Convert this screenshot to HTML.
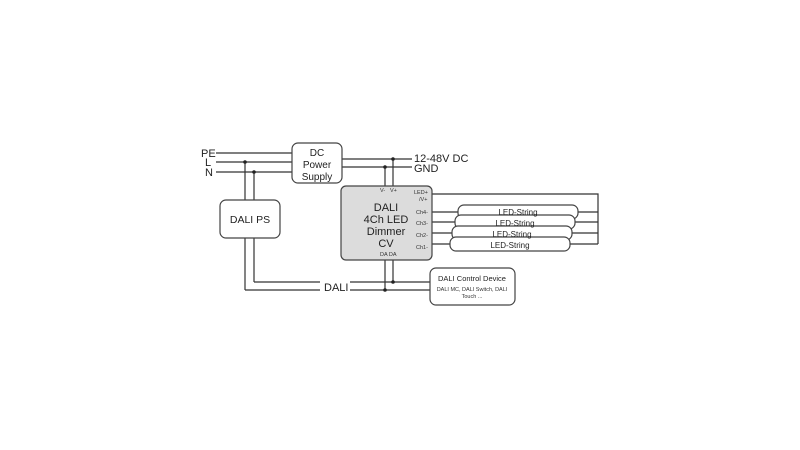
<!DOCTYPE html>
<html><head><style>
body{margin:0;background:#fff;}
svg{display:block;font-family:"Liberation Sans",sans-serif;}
</style></head><body>
<svg width="800" height="450" viewBox="0 0 800 450">
<g stroke="#333" stroke-width="1.2" fill="none">
<!-- mains -->
<line x1="216" y1="153" x2="292" y2="153"/>
<line x1="216" y1="162" x2="292" y2="162"/>
<line x1="216" y1="172" x2="292" y2="172"/>
<line x1="245" y1="162" x2="245" y2="200"/>
<line x1="254" y1="172" x2="254" y2="200"/>
<!-- DC out -->
<line x1="342" y1="159" x2="412" y2="159"/>
<line x1="342" y1="167" x2="412" y2="167"/>
<line x1="385" y1="167" x2="385" y2="186"/>
<line x1="393" y1="159" x2="393" y2="186"/>
<!-- DALI bus -->
<line x1="245" y1="238" x2="245" y2="290"/>
<line x1="254" y1="238" x2="254" y2="282"/>
<line x1="245" y1="290" x2="320" y2="290"/>
<line x1="254" y1="282" x2="320" y2="282"/>
<line x1="350" y1="290" x2="430" y2="290"/>
<line x1="350" y1="282" x2="430" y2="282"/>
<line x1="385" y1="260" x2="385" y2="290"/>
<line x1="393" y1="260" x2="393" y2="282"/>
<!-- LED -->
<polyline points="432,194 598,194 598,244"/>
<line x1="432" y1="212" x2="458" y2="212"/>
<line x1="432" y1="222" x2="455" y2="222"/>
<line x1="432" y1="233" x2="452" y2="233"/>
<line x1="432" y1="244" x2="450" y2="244"/>
<line x1="578" y1="212" x2="598" y2="212"/>
<line x1="575" y1="222" x2="598" y2="222"/>
<line x1="572" y1="233" x2="598" y2="233"/>
<line x1="570" y1="244" x2="598" y2="244"/>
</g>
<g stroke="#444" stroke-width="1.2">
<rect x="292" y="143" width="50" height="40" rx="6" fill="#fff"/>
<rect x="220" y="200" width="60" height="38" rx="6" fill="#fff"/>
<rect x="341" y="186" width="91" height="74" rx="5" fill="#dcdcdc"/>
<rect x="430" y="268" width="85" height="37" rx="6" fill="#fff"/>
<rect x="458" y="205" width="120" height="14" rx="6" fill="#fff"/>
<rect x="455" y="215" width="120" height="14" rx="6" fill="#fff"/>
<rect x="452" y="226" width="120" height="14" rx="6" fill="#fff"/>
<rect x="450" y="237" width="120" height="14" rx="6" fill="#fff"/>
</g>
<g fill="#222">
<circle cx="245" cy="162" r="1.8"/><circle cx="254" cy="172" r="1.8"/>
<circle cx="385" cy="167" r="1.8"/><circle cx="393" cy="159" r="1.8"/>
<circle cx="385" cy="290" r="1.8"/><circle cx="393" cy="282" r="1.8"/>
</g>
<g fill="#222" font-size="11">
<text x="201" y="157">PE</text><text x="205" y="166">L</text><text x="205" y="176">N</text>
<text x="317" y="156" text-anchor="middle" font-size="10">DC</text>
<text x="317" y="168" text-anchor="middle" font-size="10">Power</text>
<text x="317" y="180" text-anchor="middle" font-size="10">Supply</text>
<text x="414" y="162">12-48V DC</text><text x="414" y="172">GND</text>
<text x="250" y="223" text-anchor="middle" font-size="10.5">DALI PS</text>
<text x="324" y="291">DALI</text>
<text x="386" y="211" text-anchor="middle">DALI</text>
<text x="386" y="223" text-anchor="middle">4Ch LED</text>
<text x="386" y="235" text-anchor="middle">Dimmer</text>
<text x="386" y="247" text-anchor="middle">CV</text>
</g>
<g fill="#333" font-size="5.5">
<text x="380" y="192">V-</text><text x="390" y="192">V+</text>
<text x="380" y="256">DA DA</text>
<text x="414" y="194">LED+</text><text x="419" y="201">/V+</text>
<text x="416" y="214">Ch4-</text><text x="416" y="225">Ch3-</text>
<text x="416" y="237">Ch2-</text><text x="416" y="249">Ch1-</text>
<text x="472" y="281" font-size="7.5" fill="#222" text-anchor="middle">DALI Control Device</text>
<text x="472" y="291" font-size="5.5" text-anchor="middle">DALI MC, DALI Switch, DALI</text>
<text x="472" y="298" font-size="5.5" text-anchor="middle">Touch ...</text>
</g>
<g fill="#222" font-size="8" text-anchor="middle">
<text x="518" y="215">LED-String</text>
<text x="515" y="226">LED-String</text>
<text x="512" y="237">LED-String</text>
<text x="510" y="248">LED-String</text>
</g>
</svg>
</body></html>
